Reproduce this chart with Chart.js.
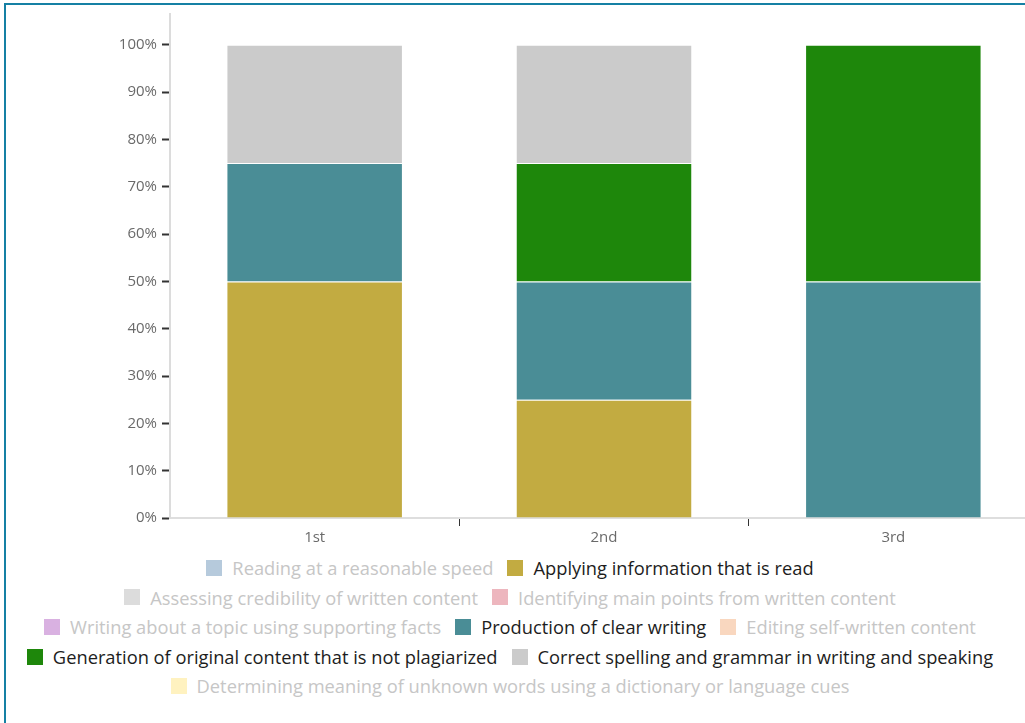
<!DOCTYPE html>
<html>
<head>
<meta charset="utf-8">
<title>Skills by rank</title>
<script src="https://cdn.jsdelivr.net/npm/chart.js@4/dist/chart.umd.min.js"></script>
<style>
  html, body { margin: 0; padding: 0; background: #fff; overflow: hidden; }
  .frame {
    position: absolute; left: 4px; top: 3px; width: 1100px; height: 800px;
    border-top: 2px solid #1580a4; border-left: 2px solid #1580a4;
  }
  #chart-wrap { position: absolute; left: 0; top: 0; width: 1040px; height: 548px; }
  #legend {
    position: absolute; left: 18px; top: 553px; width: 984px;
    display: flex; flex-wrap: wrap; justify-content: center;
    font-family: 'Open Sans', sans-serif; font-size: 18.3px; line-height: 29.6px;
  }
  .lg-item { display: flex; align-items: center; margin: 0 7px; white-space: nowrap; }
  .lg-box { width: 16px; height: 16px; margin-right: 10px; }
</style>
</head>
<body>
<div class="frame"></div>
<div id="chart-wrap"><canvas id="chart-skills"></canvas></div>
<div id="legend"></div>

<script>
// ===== DATA =====
const categories = ['1st', '2nd', '3rd'];

const skillNames = [
    'Reading at a reasonable speed',
    'Applying information that is read',
    'Assessing credibility of written content',
    'Identifying main points from written content',
    'Writing about a topic using supporting facts',
    'Production of clear writing',
    'Editing self-written content',
    'Generation of original content that is not plagiarized',
    'Correct spelling and grammar in writing and speaking',
    'Determining meaning of unknown words using a dictionary or language cues',
];

// share (%) per rank, one array per skill
const readingSpeed   = [0, 0, 0];
const applyingInfo   = [50, 25, 0];
const assessing      = [0, 0, 0];
const mainPoints     = [0, 0, 0];
const writingFacts   = [0, 0, 0];
const clearWriting   = [25, 25, 50];
const editing        = [0, 0, 0];
const originalContent = [0, 25, 50];
const spelling       = [25, 25, 0];
const unknownWords   = [0, 0, 0];

const yTicks = [0, 10, 20, 30, 40, 50, 60, 70, 80, 90, 100];

const skillColors = [
    '#B6CADC', '#C2AB41', '#DCDCDC', '#EDB6BE', '#D9B1E1',
    '#4A8D96', '#F9D7BF', '#1E870B', '#CBCBCB', '#FFF2C0',
];

const seriesValues = [readingSpeed, applyingInfo, assessing, mainPoints, writingFacts,
    clearWriting, editing, originalContent, spelling, unknownWords];

Chart.defaults.font.family = "'Open Sans', sans-serif";

const datasets = skillNames.map((name, i) => ({
    label: name,
    data: seriesValues[i],
    backgroundColor: skillColors[i],
    borderColor: 'rgba(255,255,255,0.14)',
    borderWidth: ctx => (ctx.raw ? 1 : 0),
    categoryPercentage: 1,
    barPercentage: 0.61,
}));

const chart = new Chart(document.getElementById('chart-skills'), {
    type: 'bar',
    data: { labels: categories, datasets },
    options: {
        responsive: true,
        maintainAspectRatio: false,
        animation: false,
        layout: { padding: { top: 13, right: 2, left: 0, bottom: 0 } },
        plugins: {
            legend: { display: false },
            tooltip: { enabled: false },
        },
        scales: {
            x: {
                stacked: true,
                grid: {
                    offset: true,
                    drawOnChartArea: false,
                    tickLength: 8,
                    tickColor: c => (c.index === 0 ? 'rgba(0,0,0,0)' : '#333'),
                },
                border: { color: '#dedede', width: 2 },
                ticks: { color: '#6a6a6a', font: { size: 15 }, padding: 3 },
                afterFit: s => { s.height = 30; },
            },
            y: {
                stacked: true,
                min: 0,
                max: 106.5,
                grid: { drawOnChartArea: false, tickLength: 8, tickColor: '#333', tickWidth: 2 },
                border: { color: '#dcdcdc', width: 2 },
                ticks: { color: '#6a6a6a', font: { size: 15 }, padding: 5, callback: v => v + '%' },
                afterBuildTicks: s => { s.ticks = yTicks.map(v => ({ value: v })); },
                afterFit: s => { s.width = 170; },
            },
        },
    },
});

// HTML legend built from the chart's datasets; skills with no votes are faded
const legendEl = document.getElementById('legend');
chart.data.datasets.forEach(ds => {
    const used = ds.data.some(v => v > 0);
    const item = document.createElement('div');
    item.className = 'lg-item';
    item.innerHTML = `<span class="lg-box" style="background:${ds.backgroundColor}"></span>` +
        `<span style="color:${used ? '#1d1d1d' : '#c6c6c6'}">${ds.label}</span>`;
    legendEl.appendChild(item);
});
</script>
</body>
</html>
